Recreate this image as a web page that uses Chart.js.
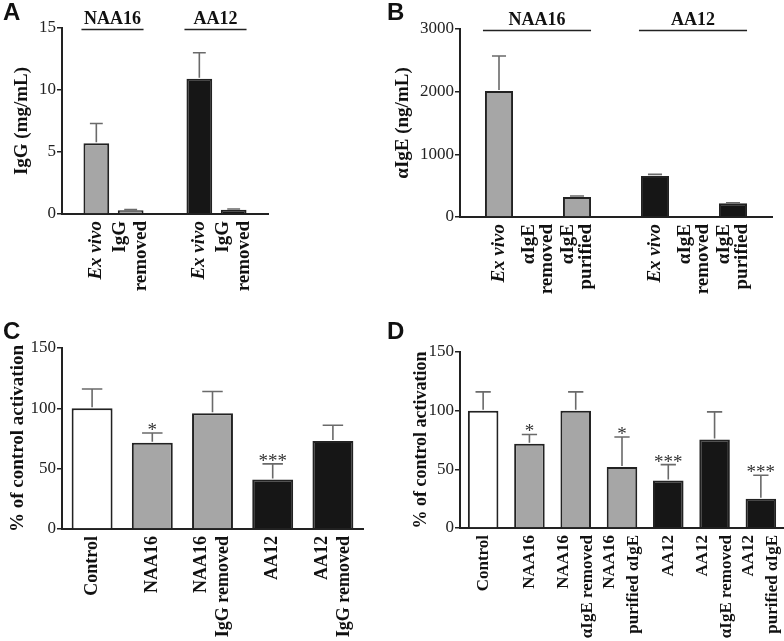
<!DOCTYPE html>
<html>
<head>
<meta charset="utf-8">
<script src="https://cdn.jsdelivr.net/npm/chart.js@4.4.0/dist/chart.umd.min.js"></script>
<style>
  body { margin: 0; background: #fff; }
  #fig { position: relative; width: 784px; height: 641px; }
  canvas { position: absolute; }
  .letter { position: absolute; font: bold 24px/24px "Liberation Sans", Arial, sans-serif; color: #111; }
</style>
</head>
<body>
<div id="fig">
  <canvas id="chartA" width="392" height="320" style="left:0;top:0"></canvas>
  <canvas id="chartB" width="392" height="320" style="left:392px;top:0"></canvas>
  <canvas id="chartC" width="392" height="321" style="left:0;top:320px"></canvas>
  <canvas id="chartD" width="392" height="321" style="left:392px;top:320px"></canvas>
  <div class="letter" style="left:3px;top:0">A</div>
  <div class="letter" style="left:387px;top:0">B</div>
  <div class="letter" style="left:3px;top:319px">C</div>
  <div class="letter" style="left:387px;top:319px">D</div>
</div>
<script>
// panel A - IgG
const labelsA = ["", ["Ex vivo"], ["IgG", "removed"], "", ["Ex vivo"], ["IgG", "removed"], ""];
const groupsA = ["", "NAA16", "NAA16", "", "AA12", "AA12", ""];
const valuesA = [null, 5.7, 0.3, null, 10.9, 0.35, null];
const errorsA = [null, 1.6, 0.05, null, 2.1, 0.05, null];

// panel B - aIgE
const labelsB = ["", ["Ex vivo"], ["αIgE", "removed"], ["αIgE", "purified"], "",
                 ["Ex vivo"], ["αIgE", "removed"], ["αIgE", "purified"], ""];
const groupsB = ["", "NAA16", "NAA16", "NAA16", "", "AA12", "AA12", "AA12", ""];
const valuesB = [null, 2010, 0, 320, null, 655, 0, 220, null];
const errorsB = [null, 560, 0, 15, null, 25, 0, 8, null];

// panel C - activation, IgG removed
const labelsC = ["Control", "NAA16", ["NAA16", "IgG removed"], "AA12", ["AA12", "IgG removed"]];
const groupsC = ["Control", "NAA16", "NAA16", "AA12", "AA12"];
const valuesC = [100, 71.5, 96, 41, 73];
const errorsC = [16, 8, 18, 13, 13];
const starsC = ["", "*", "", "***", ""];

// panel D - activation, aIgE removed / purified
const labelsD = ["Control", "NAA16", ["NAA16", "αIgE removed"], ["NAA16", "purified αIgE"],
                 "AA12", ["AA12", "αIgE removed"], ["AA12", "purified αIgE"]];
const groupsD = ["Control", "NAA16", "NAA16", "NAA16", "AA12", "AA12", "AA12"];
const valuesD = [100, 71.7, 100, 52, 40.5, 75.5, 25];
const errorsD = [16, 8, 16, 25.5, 13.5, 23.5, 20];
const starsD = ["", "*", "", "*", "***", "", "***"];

const fills = { Control: "#ffffff", NAA16: "#a6a6a6", AA12: "#161616" };
const italicLines = ["Ex vivo"];
const serif = "'Liberation Serif', 'Times New Roman', serif";
const ink = "#222";
Chart.defaults.font.family = serif;

// error bars + significance stars
const errorBars = {
  id: "errorBars",
  afterDatasetsDraw(chart, args, opts) {
    const ctx = chart.ctx;
    const y = chart.scales.y;
    const vals = chart.data.datasets[0].data;
    ctx.save();
    chart.getDatasetMeta(0).data.forEach((bar, i) => {
      const v = vals[i], e = opts.errors[i];
      if (v == null || !e) return;
      const top = y.getPixelForValue(v + e);
      const half = bar.width * 0.25;
      ctx.strokeStyle = "#6a6a6a";
      ctx.lineWidth = 1.6;
      ctx.beginPath();
      ctx.moveTo(bar.x, bar.y - 1);
      ctx.lineTo(bar.x, top);
      ctx.moveTo(bar.x - half, top);
      ctx.lineTo(bar.x + half, top);
      ctx.stroke();
      const s = opts.stars && opts.stars[i];
      if (s) {
        ctx.fillStyle = "#333";
        ctx.font = "19px " + serif;
        ctx.textAlign = "center";
        ctx.textBaseline = "alphabetic";
        ctx.fillText(s, bar.x, top + 3);
      }
    });
    ctx.restore();
  }
};

// rotated category labels under the bars
const barLabels = {
  id: "barLabels",
  afterDraw(chart, args, opts) {
    const ctx = chart.ctx;
    const xs = chart.scales.x;
    chart.data.labels.forEach((lab, i) => {
      const lines = [].concat(lab).filter(Boolean);
      if (!lines.length) return;
      const cx = xs.getPixelForValue(i);
      lines.forEach((t, j) => {
        ctx.save();
        ctx.translate(cx + (j - (lines.length - 1) / 2) * opts.lineGap, xs.top + opts.gap);
        ctx.rotate(-Math.PI / 2);
        ctx.font = (italicLines.includes(t) ? "italic bold " : "bold ") + opts.size + "px " + serif;
        ctx.fillStyle = "#111";
        ctx.textAlign = "right";
        ctx.textBaseline = "middle";
        ctx.fillText(t, 0, 0);
        ctx.restore();
      });
    });
  }
};

// NAA16 / AA12 headers with a line over each group
const groupHeaders = {
  id: "groupHeaders",
  afterDraw(chart, args, opts) {
    if (!opts.show) return;
    const ctx = chart.ctx;
    const meta = chart.getDatasetMeta(0);
    const runs = [];
    opts.groups.forEach((g, i) => {
      if (!g) return;
      const last = runs[runs.length - 1];
      if (last && last.name === g && last.end === i - 1) last.end = i;
      else runs.push({ name: g, start: i, end: i });
    });
    const lineY = chart.chartArea.top + 1.5;
    ctx.save();
    runs.forEach(r => {
      const b0 = meta.data[r.start], b1 = meta.data[r.end];
      const x0 = b0.x - b0.width / 2 - 2, x1 = b1.x + b1.width / 2;
      ctx.strokeStyle = ink;
      ctx.lineWidth = 1.5;
      ctx.beginPath();
      ctx.moveTo(x0, lineY);
      ctx.lineTo(x1, lineY);
      ctx.stroke();
      ctx.fillStyle = "#111";
      ctx.font = "bold 18px " + serif;
      ctx.textAlign = "center";
      ctx.textBaseline = "alphabetic";
      ctx.fillText(r.name, (x0 + x1) / 2, lineY - 6);
    });
    ctx.restore();
  }
};

function panel(id, p) {
  new Chart(document.getElementById(id), {
    type: "bar",
    data: {
      labels: p.labels,
      datasets: [{
        data: p.values,
        backgroundColor: p.groups.map(g => fills[g] || "#fff"),
        borderColor: ink,
        borderWidth: 2,
        borderSkipped: "start",
        barPercentage: p.barPct,
        categoryPercentage: 1
      }]
    },
    options: {
      responsive: false,
      animation: false,
      layout: { padding: p.padding },
      scales: {
        x: {
          offset: p.offset,
          grid: { display: false },
          border: { color: ink, width: 2 },
          ticks: { display: false },
          afterFit(s) { s.height = p.xHeight; }
        },
        y: {
          min: 0,
          max: p.max,
          ticks: {
            stepSize: p.step, color: ink, padding: 1,
            font: { family: serif, size: 17, weight: "normal" },
            callback: v => String(v)
          },
          grid: { drawOnChartArea: false, tickLength: 5, color: ink, lineWidth: 1.5 },
          border: { color: ink, width: 2 },
          title: {
            display: true,
            text: p.title,
            color: "#111",
            padding: { top: p.titlePad, bottom: 0 },
            font: { family: serif, size: p.titleSize, weight: "bold" }
          },
          afterFit(s) { s.width = p.yWidth; }
        }
      },
      plugins: {
        legend: { display: false },
        tooltip: { enabled: false },
        errorBars: { errors: p.errors, stars: p.stars },
        barLabels: { gap: 7, lineGap: p.lineGap, size: p.labelSize },
        groupHeaders: { show: p.headers, groups: p.groups }
      }
    },
    plugins: [errorBars, barLabels, groupHeaders]
  });
}

panel("chartA", {
  labels: labelsA, groups: groupsA, values: valuesA, errors: errorsA, stars: null,
  max: 15, step: 5, title: "IgG (mg/mL)", titlePad: 11, titleSize: 19, yWidth: 62, xHeight: 106,
  padding: { top: 28, right: 124, bottom: 0, left: 0 }, offset: false, barPct: 0.75,
  lineGap: 21, labelSize: 19, headers: true
});
panel("chartB", {
  labels: labelsB, groups: groupsB, values: valuesB, errors: errorsB, stars: null,
  max: 3000, step: 1000, title: "αIgE (ng/mL)", titlePad: 0, titleSize: 19, yWidth: 68, xHeight: 103,
  padding: { top: 29, right: 12, bottom: 0, left: 0 }, offset: false, barPct: 0.72,
  lineGap: 18, labelSize: 19, headers: true
});
panel("chartC", {
  labels: labelsC, groups: groupsC, values: valuesC, errors: errorsC, stars: starsC,
  max: 150, step: 50, title: "% of control activation", titlePad: 7, titleSize: 19, yWidth: 62, xHeight: 112,
  padding: { top: 28, right: 29, bottom: 0, left: 0 }, offset: true, barPct: 0.68,
  lineGap: 22, labelSize: 18, headers: false
});
panel("chartD", {
  labels: labelsD, groups: groupsD, values: valuesD, errors: errorsD, stars: starsD,
  max: 150, step: 50, title: "% of control activation", titlePad: 19, titleSize: 18, yWidth: 68, xHeight: 113,
  padding: { top: 32, right: 0, bottom: 0, left: 0 }, offset: true, barPct: 0.66,
  lineGap: 24, labelSize: 17, headers: false
});
</script>
</body>
</html>
